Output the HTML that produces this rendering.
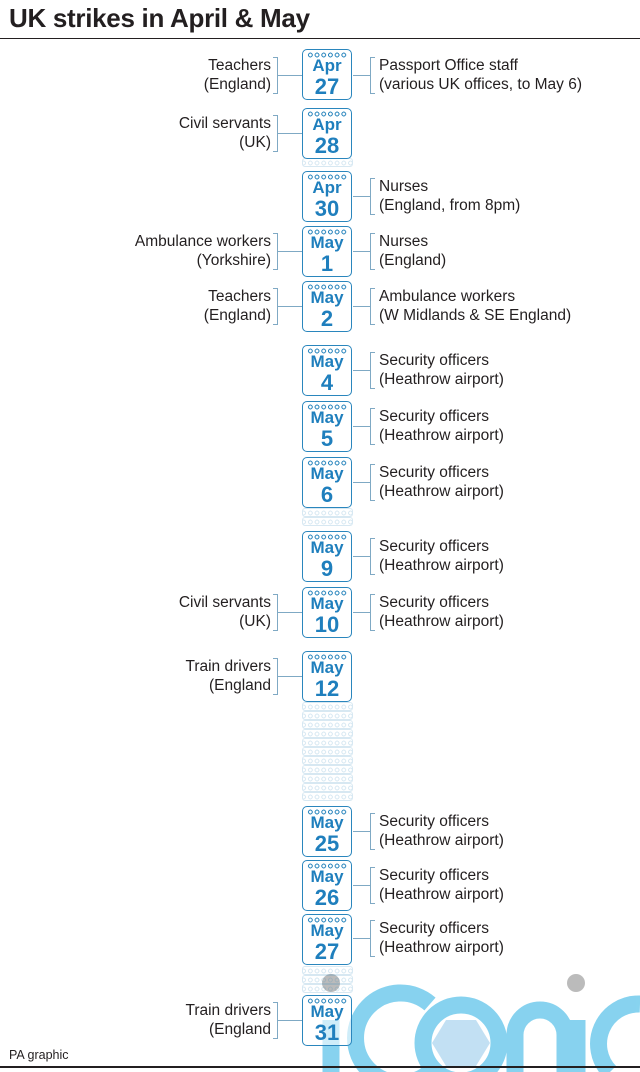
<!DOCTYPE html>
<html><head><meta charset="utf-8"><style>
body{margin:0;width:640px;height:1072px;background:#fff;position:relative;overflow:hidden;font-family:"Liberation Sans",Arial,sans-serif;color:#231f20}
h1{position:absolute;left:9px;top:3px;margin:0;font-size:26px;font-weight:bold;letter-spacing:-0.3px}
.hr{position:absolute;left:0;width:640px;background:#231f20}
.c{position:absolute;left:302px;width:48px;height:49px;border:1.6px solid #2a86bd;border-radius:5px;background:#fff;text-align:center;color:#1f7fbd}
.c .d{position:absolute;left:4px;right:4px;top:2px;height:6px;background:radial-gradient(circle,transparent 1.3px,#2a86bd 1.5px,#2a86bd 2.3px,transparent 2.5px) 0 0/6.7px 6px repeat-x}
.c .m{position:absolute;left:0;right:0;top:6px;font-size:17px;line-height:20px;font-weight:bold}
.c .n{position:absolute;left:0;right:0;top:25px;font-size:22px;line-height:24px;font-weight:bold}
.g{position:absolute;left:302px;width:51px;height:9px;opacity:.18;background:radial-gradient(circle,transparent 1.3px,#2a86bd 1.5px,#2a86bd 2.3px,transparent 2.5px) 4px 1px/6.7px 6px repeat-x;border:1px solid #2a86bd;border-radius:3px;box-sizing:border-box}
.l,.r{position:absolute;font-size:15.5px;line-height:18.5px;white-space:nowrap}
.l{right:369px;text-align:right}
.r{left:379px}
.bl,.br{position:absolute;border:1.2px solid #7fa9c4;width:5px;box-sizing:border-box}
.bl{left:273px;border-left:none}
.br{left:370px;border-right:none}
.h{position:absolute;height:1.2px;background:#7fa9c4}
</style></head><body>
<h1>UK strikes in April &amp; May</h1>
<div class="hr" style="top:38px;height:1px"></div>

<div style="position:absolute;left:0;top:0">
<svg width="640" height="1072" style="position:absolute;left:0;top:0">
<g fill="none" stroke="#5fc4ea" stroke-width="17" opacity=".75">
<line x1="331" y1="1020" x2="331" y2="1072"/>
<path d="M 430 1004 A 45 45 0 1 0 430 1072"/>
<circle cx="461" cy="1043" r="38"/>
<path d="M 515 1072 L 515 1035 A 25 25 0 0 1 565 1035 L 565 1072"/>
<line x1="577" y1="1020" x2="577" y2="1072"/>
<path d="M 640 1004 A 40 40 0 0 0 610 1072"/>
</g>
<circle cx="331" cy="983" r="9" fill="#bbb"/>
<circle cx="576" cy="983" r="9" fill="#bbb"/>
<polygon points="446,1020 476,1020 490,1043 476,1066 446,1066 432,1043" fill="#a8d3ee" opacity=".7"/>
</svg></div>

<div class="g" style="top:158px"></div>
<div class="g" style="top:508px"></div><div class="g" style="top:517px"></div>
<div class="g" style="top:702px"></div><div class="g" style="top:711px"></div><div class="g" style="top:720px"></div><div class="g" style="top:729px"></div><div class="g" style="top:738px"></div><div class="g" style="top:747px"></div><div class="g" style="top:756px"></div><div class="g" style="top:765px"></div><div class="g" style="top:774px"></div><div class="g" style="top:783px"></div><div class="g" style="top:792px"></div>
<div class="g" style="top:966px"></div><div class="g" style="top:975px"></div><div class="g" style="top:984px"></div>

<div class="c" style="top:49px"><div class="d"></div><div class="m">Apr</div><div class="n">27</div></div>
<div class="l" style="top:57px">Teachers<br>(England)</div><div class="bl" style="top:57px;height:37px"></div><div class="h" style="left:278px;width:24px;top:75px"></div>
<div class="r" style="top:57px">Passport Office staff<br>(various UK offices, to May 6)</div><div class="br" style="top:57px;height:37px"></div><div class="h" style="left:353px;width:18px;top:75px"></div>

<div class="c" style="top:108px"><div class="d"></div><div class="m">Apr</div><div class="n">28</div></div>
<div class="l" style="top:115px">Civil servants<br>(UK)</div><div class="bl" style="top:115px;height:37px"></div><div class="h" style="left:278px;width:24px;top:133px"></div>

<div class="c" style="top:171px"><div class="d"></div><div class="m">Apr</div><div class="n">30</div></div>
<div class="r" style="top:178px">Nurses<br>(England, from 8pm)</div><div class="br" style="top:178px;height:37px"></div><div class="h" style="left:353px;width:18px;top:196px"></div>

<div class="c" style="top:226px"><div class="d"></div><div class="m">May</div><div class="n">1</div></div>
<div class="l" style="top:233px">Ambulance workers<br>(Yorkshire)</div><div class="bl" style="top:233px;height:37px"></div><div class="h" style="left:278px;width:24px;top:251px"></div>
<div class="r" style="top:233px">Nurses<br>(England)</div><div class="br" style="top:233px;height:37px"></div><div class="h" style="left:353px;width:18px;top:251px"></div>

<div class="c" style="top:281px"><div class="d"></div><div class="m">May</div><div class="n">2</div></div>
<div class="l" style="top:288px">Teachers<br>(England)</div><div class="bl" style="top:288px;height:37px"></div><div class="h" style="left:278px;width:24px;top:306px"></div>
<div class="r" style="top:288px">Ambulance workers<br>(W Midlands &amp; SE England)</div><div class="br" style="top:288px;height:37px"></div><div class="h" style="left:353px;width:18px;top:306px"></div>

<div class="c" style="top:345px"><div class="d"></div><div class="m">May</div><div class="n">4</div></div>
<div class="r" style="top:352px">Security officers<br>(Heathrow airport)</div><div class="br" style="top:352px;height:37px"></div><div class="h" style="left:353px;width:18px;top:370px"></div>

<div class="c" style="top:401px"><div class="d"></div><div class="m">May</div><div class="n">5</div></div>
<div class="r" style="top:408px">Security officers<br>(Heathrow airport)</div><div class="br" style="top:408px;height:37px"></div><div class="h" style="left:353px;width:18px;top:426px"></div>

<div class="c" style="top:457px"><div class="d"></div><div class="m">May</div><div class="n">6</div></div>
<div class="r" style="top:464px">Security officers<br>(Heathrow airport)</div><div class="br" style="top:464px;height:37px"></div><div class="h" style="left:353px;width:18px;top:482px"></div>

<div class="c" style="top:531px"><div class="d"></div><div class="m">May</div><div class="n">9</div></div>
<div class="r" style="top:538px">Security officers<br>(Heathrow airport)</div><div class="br" style="top:538px;height:37px"></div><div class="h" style="left:353px;width:18px;top:556px"></div>

<div class="c" style="top:587px"><div class="d"></div><div class="m">May</div><div class="n">10</div></div>
<div class="l" style="top:594px">Civil servants<br>(UK)</div><div class="bl" style="top:594px;height:37px"></div><div class="h" style="left:278px;width:24px;top:612px"></div>
<div class="r" style="top:594px">Security officers<br>(Heathrow airport)</div><div class="br" style="top:594px;height:37px"></div><div class="h" style="left:353px;width:18px;top:612px"></div>

<div class="c" style="top:651px"><div class="d"></div><div class="m">May</div><div class="n">12</div></div>
<div class="l" style="top:658px">Train drivers<br>(England</div><div class="bl" style="top:658px;height:37px"></div><div class="h" style="left:278px;width:24px;top:676px"></div>

<div class="c" style="top:806px"><div class="d"></div><div class="m">May</div><div class="n">25</div></div>
<div class="r" style="top:813px">Security officers<br>(Heathrow airport)</div><div class="br" style="top:813px;height:37px"></div><div class="h" style="left:353px;width:18px;top:831px"></div>

<div class="c" style="top:860px"><div class="d"></div><div class="m">May</div><div class="n">26</div></div>
<div class="r" style="top:867px">Security officers<br>(Heathrow airport)</div><div class="br" style="top:867px;height:37px"></div><div class="h" style="left:353px;width:18px;top:885px"></div>

<div class="c" style="top:914px"><div class="d"></div><div class="m">May</div><div class="n">27</div></div>
<div class="r" style="top:920px">Security officers<br>(Heathrow airport)</div><div class="br" style="top:920px;height:37px"></div><div class="h" style="left:353px;width:18px;top:938px"></div>

<div class="c" style="top:995px;background:rgba(255,255,255,.6)"><div class="d"></div><div class="m">May</div><div class="n">31</div></div>
<div class="l" style="top:1002px">Train drivers<br>(England</div><div class="bl" style="top:1002px;height:37px"></div><div class="h" style="left:278px;width:24px;top:1020px"></div>

<div style="position:absolute;left:9px;top:1048px;font-size:12.5px">PA graphic</div>
<div class="hr" style="top:1066px;height:2px"></div>
</body></html>
